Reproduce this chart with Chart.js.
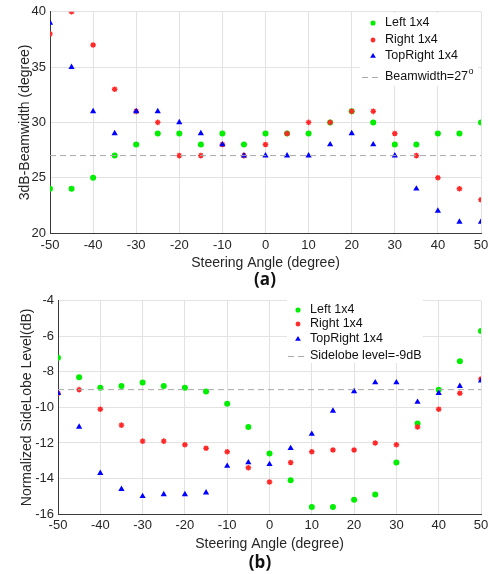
<!DOCTYPE html>
<html>
<head>
<meta charset="utf-8">
<script src="https://cdn.jsdelivr.net/npm/chart.js@4.4.1/dist/chart.umd.min.js"></script>
<style>
  body { margin: 0; background: #fff; width: 494px; height: 574px; overflow: hidden; }
  canvas { position: absolute; left: 0; }
  #beam { top: 0; }
  #side { top: 289px; }
</style>
</head>
<body>
<canvas id="beam" width="494" height="289"></canvas>
<canvas id="side" width="494" height="285"></canvas>
<script>
// steering angles, degrees
const angles = [-50, -45, -40, -35, -30, -25, -20, -15, -10, -5, 0, 5, 10, 15, 20, 25, 30, 35, 40, 45, 50];

// 3dB beamwidth (degree)
const bwLeft     = [24, 24, 25, 27, 28, 29, 29, 28, 29, 28, 29, 29, 29, 30, 31, 30, 28, 28, 29, 29, 30];
const bwRight    = [38, 40, 37, 33, 31, 30, 27, 27, 28, 27, 28, 29, 30, 30, 31, 31, 29, 27, 25, 24, 23];
const bwTopRight = [39, 35, 31, 29, 31, 31, 30, 29, 28, 27, 27, 27, 27, 28, 29, 28, 27, 24, 22, 21, 21];
const beamwidthRef = 27;

// normalized sidelobe level (dB)
const slLeft     = [-7.2, -8.3, -8.9, -8.8, -8.6, -8.8, -8.9, -9.1, -9.8, -11.1, -12.6, -14.1, -15.6, -15.6, -15.2, -14.9, -13.1, -10.9, -9.0, -7.4, -5.7];
const slRight    = [-9.2, -9.0, -10.1, -11.0, -11.9, -11.9, -12.1, -12.3, -12.5, -13.4, -14.2, -13.1, -12.5, -12.4, -12.4, -12.0, -12.1, -11.1, -10.1, -9.2, -8.4];
const slTopRight = [-9.2, -11.1, -13.7, -14.6, -15.0, -14.9, -14.9, -14.8, -13.3, -13.1, -13.2, -12.3, -11.5, -10.2, -9.1, -8.6, -8.6, -9.7, -9.2, -8.8, -8.5];
const sidelobeRef = -9;

const xTicks = { min: -50, max: 50, step: 10 };
const bwTicks = { min: 20, max: 40, step: 5 };
const slTicks = { min: -16, max: -4, step: 2 };

const FONT = "'Liberation Sans', Arial, sans-serif";
const INK = '#262626';
const GREEN = '#00ee00';
const RED = 'rgb(255,40,40)';
const BLUE = '#0000ff';

function pts(ys) {
  return angles.map((a, i) => ({ x: a, y: ys[i] }));
}

// later series sit on top of earlier ones (higher order = drawn first)
function makeSets(left, right, topRight, ref, refLabel) {
  return [
    { label: 'Left 1x4', order: 3, data: pts(left), pointStyle: 'circle', pointRadius: 3,
      backgroundColor: GREEN, borderColor: GREEN, borderWidth: 0 },
    { label: 'Right 1x4', order: 2, data: pts(right), pointStyle: 'star', pointRadius: 2.8,
      backgroundColor: RED, borderColor: RED, borderWidth: 1.4 },
    { label: 'TopRight 1x4', order: 1, data: pts(topRight), pointStyle: 'triangle', pointRadius: 3.6,
      backgroundColor: BLUE, borderColor: BLUE, borderWidth: 0 },
    { label: refLabel.text, sup: refLabel.sup, order: 0, showLine: true, pointRadius: 0,
      data: [{ x: angles[0], y: ref }, { x: angles[angles.length - 1], y: ref }],
      borderColor: '#a9a9a9', borderWidth: 1, borderDash: [6, 4] }
  ];
}

function marker(ctx, style, x, y, r, color) {
  ctx.fillStyle = color;
  ctx.strokeStyle = color;
  if (style === 'circle') {
    ctx.beginPath();
    ctx.arc(x, y, r, 0, Math.PI * 2);
    ctx.fill();
  } else if (style === 'triangle') {
    ctx.beginPath();
    ctx.moveTo(x, y - r);
    ctx.lineTo(x + r * 0.95, y + r * 0.6);
    ctx.lineTo(x - r * 0.95, y + r * 0.6);
    ctx.closePath();
    ctx.fill();
  } else if (style === 'star') {
    ctx.lineWidth = 1.4;
    ctx.beginPath();
    for (let k = 0; k < 4; k++) {
      const t = k * Math.PI / 4;
      ctx.moveTo(x - r * Math.cos(t), y - r * Math.sin(t));
      ctx.lineTo(x + r * Math.cos(t), y + r * Math.sin(t));
    }
    ctx.stroke();
  }
}

// legend box drawn inside the plot, plus the (a)/(b) tag under it
const boxLegend = {
  id: 'boxLegend',
  afterDraw(chart, args, o) {
    const ctx = chart.ctx;
    ctx.save();
    ctx.fillStyle = '#fff';
    ctx.fillRect(o.left, o.top, o.width, o.height);
    ctx.font = '12.5px ' + FONT;
    ctx.textBaseline = 'middle';
    chart.data.datasets.forEach((ds, i) => {
      const y = o.rows[i];
      if (ds.showLine) {
        ctx.strokeStyle = ds.borderColor;
        ctx.lineWidth = 1;
        ctx.setLineDash(ds.borderDash);
        ctx.beginPath();
        ctx.moveTo(o.dash[0], y + 0.5);
        ctx.lineTo(o.dash[1], y + 0.5);
        ctx.stroke();
        ctx.setLineDash([]);
      } else {
        marker(ctx, ds.pointStyle, o.markerX, y, ds.pointRadius * 0.85, ds.backgroundColor);
      }
      ctx.fillStyle = '#111';
      ctx.textAlign = 'left';
      ctx.fillText(ds.label, o.textX, y);
      if (ds.sup) {
        const w = ctx.measureText(ds.label).width;
        ctx.font = '9px ' + FONT;
        ctx.fillText(ds.sup, o.textX + w + 0.5, y - 5);
        ctx.font = '12.5px ' + FONT;
      }
    });
    ctx.font = 'bold 17px "Open Sans", ' + FONT;
    ctx.fillStyle = '#111';
    ctx.textAlign = 'center';
    ctx.fillText(o.tag, o.tagX, o.tagY);
    ctx.restore();
  }
};

function makeChart(id, sets, yt, cfg) {
  return new Chart(document.getElementById(id), {
    type: 'scatter',
    data: { datasets: sets },
    plugins: [boxLegend],
    options: {
      responsive: false,
      devicePixelRatio: 1,
      animation: false,
      layout: { padding: { left: 0, top: cfg.padTop, right: 13, bottom: 0 } },
      plugins: {
        legend: { display: false },
        tooltip: { enabled: false },
        boxLegend: cfg.legend
      },
      scales: {
        x: {
          type: 'linear', min: xTicks.min, max: xTicks.max,
          afterFit: s => { s.height = cfg.xHeight; },
          ticks: { stepSize: xTicks.step, padding: cfg.xTickPad, color: INK, font: { family: FONT, size: 13 } },
          grid: { color: '#e2e2e2', drawTicks: false },
          border: { color: '#3a3a3a', width: 1 },
          title: { display: true, text: 'Steering Angle (degree)', color: INK,
                   font: { family: FONT, size: 14 }, padding: { top: 0, bottom: cfg.xTitlePad } }
        },
        y: {
          type: 'linear', min: yt.min, max: yt.max,
          afterFit: s => { s.width = cfg.yWidth; },
          ticks: { stepSize: yt.step, padding: 4, color: INK, font: { family: FONT, size: 13 } },
          grid: { color: '#e2e2e2', drawTicks: false },
          border: { color: '#3a3a3a', width: 1 },
          title: { display: true, text: cfg.yTitle, color: INK,
                   font: { family: FONT, size: 14 }, padding: { top: cfg.yTitlePad, bottom: 0 } }
        }
      }
    }
  });
}

makeChart('beam',
  makeSets(bwLeft, bwRight, bwTopRight, beamwidthRef, { text: 'Beamwidth=' + beamwidthRef, sup: 'o' }),
  bwTicks,
  {
    padTop: 11, xHeight: 56, xTickPad: 5, xTitlePad: 17.6, yWidth: 50, yTitlePad: 16.6,
    yTitle: '3dB-Beamwidth (degree)',
    legend: { left: 360, top: 13, width: 118, height: 73, rows: [23, 40, 56, 77],
              markerX: 373, textX: 385, dash: [362, 381], tag: '(a)', tagX: 265, tagY: 280 }
  });

makeChart('side',
  makeSets(slLeft, slRight, slTopRight, sidelobeRef, { text: 'Sidelobe level=' + sidelobeRef + 'dB' }),
  slTicks,
  {
    padTop: 8, xHeight: 60, xTickPad: 4, xTitlePad: 21.6, yWidth: 58, yTitlePad: 18.6,
    yTitle: 'Normalized SideLobe Level(dB)',
    legend: { left: 287, top: 10, width: 136, height: 64, rows: [21, 35, 50, 67],
              markerX: 298, textX: 310, dash: [288, 308], tag: '(b)', tagX: 260, tagY: 274 }
  });
</script>
</body>
</html>
